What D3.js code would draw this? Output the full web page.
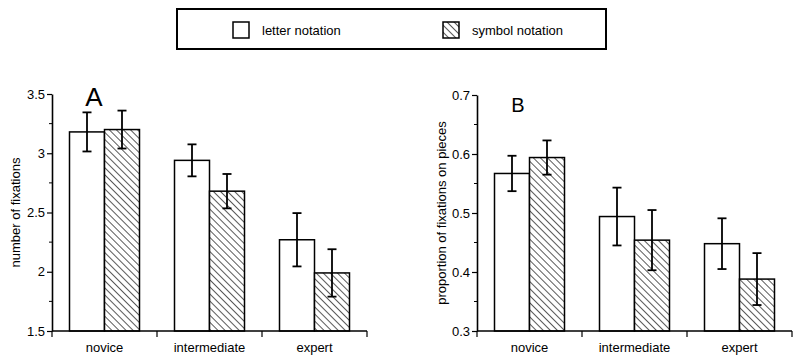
<!DOCTYPE html>
<html>
<head>
<meta charset="utf-8">
<script src="https://cdn.jsdelivr.net/npm/d3@7"></script>
<style>
  body { margin: 0; background: #fff; }
  svg { display: block; font-family: "Liberation Sans", Arial, sans-serif; }
</style>
</head>
<body>
<script>
var categories = ["novice", "intermediate", "expert"];
var seriesNames = ["letter notation", "symbol notation"];

// panel A: number of fixations
var fixLetter = [3.18, 2.94, 2.27];
var fixLetterErr = [0.165, 0.135, 0.225];
var fixSymbol = [3.20, 2.68, 1.99];
var fixSymbolErr = [0.16, 0.145, 0.20];
var ticksA = [1.5, 2, 2.5, 3, 3.5];

// panel B: proportion of fixations on pieces
var propLetter = [0.567, 0.494, 0.448];
var propLetterErr = [0.030, 0.049, 0.043];
var propSymbol = [0.594, 0.454, 0.388];
var propSymbolErr = [0.029, 0.051, 0.044];
var ticksB = [0.3, 0.4, 0.5, 0.6, 0.7];

function init() {
    var w = 800, h = 361;
    var svg = d3.select("body").append("svg")
        .attr("width", w)
        .attr("height", h);

    // hatching for the symbol bars
    svg.append("defs").append("pattern")
        .attr("id", "hatch")
        .attr("patternUnits", "userSpaceOnUse")
        .attr("width", 5)
        .attr("height", 5)
        .attr("patternTransform", "rotate(-45)")
        .call(function(p) {
            p.append("rect").attr("width", 5).attr("height", 5).attr("fill", "#fff");
            p.append("line")
                .attr("x1", 0).attr("y1", 0)
                .attr("x2", 0).attr("y2", 5)
                .attr("stroke", "#000")
                .attr("stroke-width", 1.3);
        });

    // legend
    svg.append("rect")
        .attr("x", 177).attr("y", 9)
        .attr("width", 429).attr("height", 40)
        .attr("fill", "none")
        .attr("stroke", "#000")
        .attr("stroke-width", 2);

    var legendX = [233, 443];
    seriesNames.forEach(function(name, i) {
        svg.append("rect")
            .attr("x", legendX[i]).attr("y", 22)
            .attr("width", 16).attr("height", 16)
            .attr("fill", i === 0 ? "#fff" : "url(#hatch)")
            .attr("stroke", "#000")
            .attr("stroke-width", 1.5);
        svg.append("text")
            .attr("x", legendX[i] + 29).attr("y", 35)
            .attr("font-size", 13)
            .text(name);
    });

    drawPanel({
        x0: 52, x1: 367, yTop: 94, yBottom: 331,
        domain: [1.5, 3.5], ticks: ticksA, fmt: d3.format(".1~f"),
        letter: fixLetter, letterErr: fixLetterErr,
        symbol: fixSymbol, symbolErr: fixSymbolErr,
        title: "number of fixations", titleX: 20,
        tag: "A", tagX: 94, tagY: 106, tagSize: 26
    });

    drawPanel({
        x0: 477, x1: 792, yTop: 95, yBottom: 331,
        domain: [0.3, 0.7], ticks: ticksB, fmt: d3.format(".1f"),
        letter: propLetter, letterErr: propLetterErr,
        symbol: propSymbol, symbolErr: propSymbolErr,
        title: "proportion of fixations on pieces", titleX: 446,
        tag: "B", tagX: 518, tagY: 112, tagSize: 20
    });

    function drawPanel(cfg) {
        var g = svg.append("g");

        var xScale = d3.scaleBand()
            .domain(categories)
            .range([cfg.x0, cfg.x1])
            .paddingInner(1 / 3)
            .paddingOuter(1 / 6);

        var xSub = d3.scaleBand()
            .domain([0, 1])
            .range([0, xScale.bandwidth()]);

        var yScale = d3.scaleLinear()
            .domain(cfg.domain)
            .range([cfg.yBottom, cfg.yTop]);

        var rows = [];
        categories.forEach(function(c, i) {
            rows.push({ cat: c, s: 0, v: cfg.letter[i], e: cfg.letterErr[i] });
            rows.push({ cat: c, s: 1, v: cfg.symbol[i], e: cfg.symbolErr[i] });
        });

        // bars
        g.selectAll("rect.bar")
            .data(rows)
            .enter()
            .append("rect")
            .attr("class", "bar")
            .attr("x", function(d) { return xScale(d.cat) + xSub(d.s); })
            .attr("y", function(d) { return yScale(d.v); })
            .attr("width", xSub.bandwidth())
            .attr("height", function(d) { return yScale(cfg.domain[0]) - yScale(d.v); })
            .attr("fill", function(d) { return d.s === 0 ? "#fff" : "url(#hatch)"; })
            .attr("stroke", "#000")
            .attr("stroke-width", 1.5);

        // error bars
        var err = g.selectAll("g.err")
            .data(rows)
            .enter()
            .append("g")
            .attr("class", "err")
            .attr("stroke", "#000")
            .attr("stroke-width", 1.8);

        function cx(d) { return xScale(d.cat) + xSub(d.s) + xSub.bandwidth() / 2; }

        err.append("line")
            .attr("x1", cx).attr("x2", cx)
            .attr("y1", function(d) { return yScale(d.v + d.e); })
            .attr("y2", function(d) { return yScale(d.v - d.e); });
        [1, -1].forEach(function(sign) {
            err.append("line")
                .attr("x1", function(d) { return cx(d) - 4.5; })
                .attr("x2", function(d) { return cx(d) + 4.5; })
                .attr("y1", function(d) { return yScale(d.v + sign * d.e); })
                .attr("y2", function(d) { return yScale(d.v + sign * d.e); });
        });

        // y axis
        var yAxis = d3.axisLeft(yScale)
            .tickValues(cfg.ticks)
            .tickFormat(cfg.fmt)
            .tickSize(5)
            .tickPadding(2)
            .tickSizeOuter(0);

        var ya = g.append("g")
            .attr("transform", "translate(" + cfg.x0 + ",0)")
            .call(yAxis);
        ya.select(".domain").attr("stroke-width", 1.6);
        ya.selectAll(".tick line").attr("stroke-width", 1.2);
        ya.selectAll("text")
            .attr("font-size", 13)
            .attr("font-family", "Liberation Sans, Arial, sans-serif")
            .attr("fill", "#000");

        // minor ticks between the labelled ones
        var minor = d3.range(cfg.ticks.length - 1).map(function(i) {
            return (cfg.ticks[i] + cfg.ticks[i + 1]) / 2;
        });
        g.selectAll("line.minor")
            .data(minor)
            .enter()
            .append("line")
            .attr("class", "minor")
            .attr("x1", cfg.x0 - 3).attr("x2", cfg.x0)
            .attr("y1", function(d) { return yScale(d); })
            .attr("y2", function(d) { return yScale(d); })
            .attr("stroke", "#000")
            .attr("stroke-width", 1);

        // x axis: baseline, boundary ticks, centred labels
        g.append("line")
            .attr("x1", cfg.x0).attr("x2", cfg.x1)
            .attr("y1", cfg.yBottom).attr("y2", cfg.yBottom)
            .attr("stroke", "#000")
            .attr("stroke-width", 1.6);

        var bounds = categories.map(function(c) { return xScale(c) - xScale.step() * xScale.paddingInner() / 2; });
        bounds.push(cfg.x1);
        g.selectAll("line.xtick")
            .data(bounds)
            .enter()
            .append("line")
            .attr("class", "xtick")
            .attr("x1", function(d) { return d; })
            .attr("x2", function(d) { return d; })
            .attr("y1", cfg.yBottom)
            .attr("y2", cfg.yBottom + 6)
            .attr("stroke", "#000")
            .attr("stroke-width", 1.2);

        g.selectAll("text.xlab")
            .data(categories)
            .enter()
            .append("text")
            .attr("class", "xlab")
            .attr("x", function(d) { return xScale(d) + xScale.bandwidth() / 2; })
            .attr("y", 352)
            .attr("text-anchor", "middle")
            .attr("font-size", 13)
            .text(function(d) { return d; });

        // axis title
        g.append("text")
            .attr("transform", "translate(" + cfg.titleX + "," + ((cfg.yTop + cfg.yBottom) / 2) + ") rotate(-90)")
            .attr("text-anchor", "middle")
            .attr("font-size", 13)
            .text(cfg.title);

        // panel letter
        g.append("text")
            .attr("x", cfg.tagX).attr("y", cfg.tagY)
            .attr("text-anchor", "middle")
            .attr("font-size", cfg.tagSize)
            .text(cfg.tag);
    }
}

window.onload = init;
</script>
</body>
</html>
